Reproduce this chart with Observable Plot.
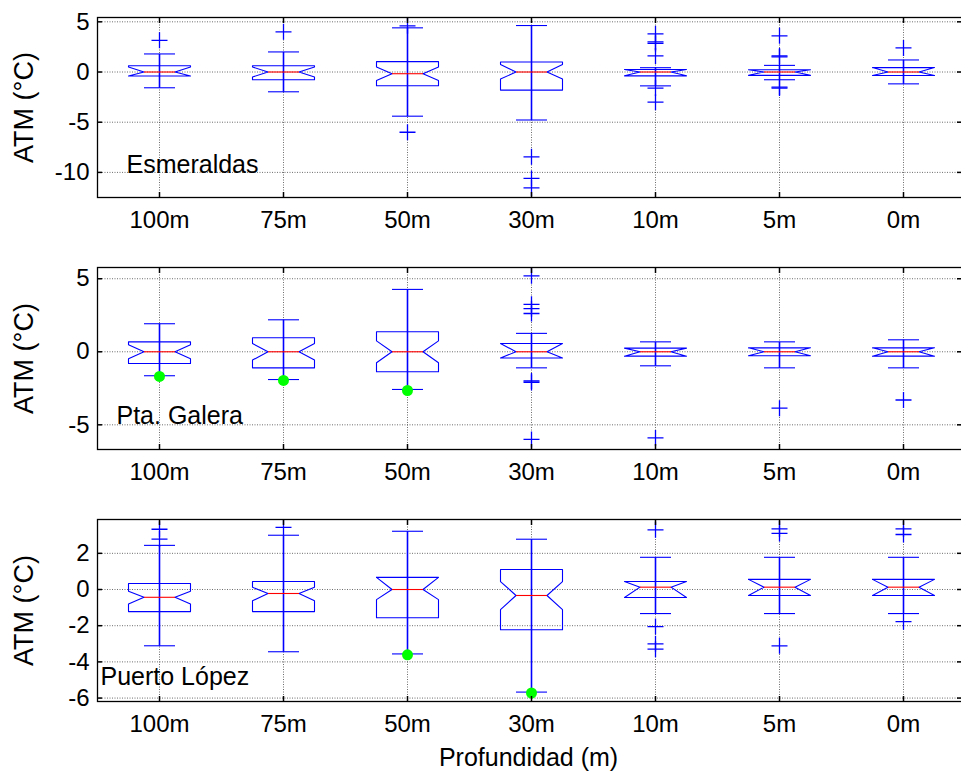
<!DOCTYPE html>
<html><head><meta charset="utf-8">
<script src="https://cdn.jsdelivr.net/npm/d3@7"></script>
<script src="https://cdn.jsdelivr.net/npm/@observablehq/plot@0.6"></script>
<style>
body{margin:0;background:#fff;}
#wrap{position:relative;width:961px;height:771px;overflow:hidden;background:#fff;}
#wrap > svg{position:absolute;left:0;}
</style></head><body><div id="wrap"></div>
<script>
const depths = ["100m","75m","50m","30m","10m","5m","0m"];
const stations = ["Esmeraldas","Pta. Galera","Puerto López"];
const yTitle = "ATM (°C)";
const xTitle = "Profundidad (m)";

// Esmeraldas
const esmMedian   = [0, 0, -0.17, 0, 0, 0, 0];
const esmQ1       = [-0.40, -0.77, -1.37, -1.80, -0.38, -0.33, -0.35];
const esmQ3       = [0.63, 0.63, 1.03, 1.00, 0.25, 0.23, 0.44];
const esmNotchLo  = [-0.50, -0.50, -0.84, -0.70, -0.38, -0.33, -0.35];
const esmNotchHi  = [0.50, 0.50, 0.50, 0.75, 0.25, 0.23, 0.44];
const esmWhiskLo  = [-1.57, -1.97, -4.40, -4.78, -1.38, -0.77, -1.18];
const esmWhiskHi  = [1.80, 2.00, 4.40, 4.63, 0.43, 0.66, 1.20];
const esmOutliers = [[3.16], [4.0], [4.6, -6.0], [-8.45, -10.6, -11.55], [3.8, 3.0, 2.85, 1.6, -1.6, -3.0], [3.6, 1.6, 1.5, -1.5, -1.6], [2.4]];
const esmGreen    = [null, null, null, null, null, null, null];
const esmYDomain  = [-12.5, 5.43];
const esmYTicks   = [5, 0, -5, -10];

// Pta. Galera
const galMedian   = [0, 0, 0, 0, 0, 0, 0];
const galQ1       = [-0.80, -1.10, -1.37, -0.43, -0.30, -0.27, -0.30];
const galQ3       = [0.68, 0.96, 1.37, 0.57, 0.25, 0.27, 0.27];
const galNotchLo  = [-0.48, -0.57, -0.75, -0.43, -0.30, -0.27, -0.30];
const galNotchHi  = [0.48, 0.57, 0.75, 0.57, 0.25, 0.27, 0.27];
const galWhiskLo  = [-1.64, -1.90, -2.58, -1.10, -0.96, -1.10, -1.10];
const galWhiskHi  = [1.92, 2.19, 4.27, 1.26, 0.68, 0.68, 0.82];
const galOutliers = [[], [], [], [5.2, 3.25, 2.95, 2.62, -2.0, -2.1, -6.0], [-5.9], [-3.86], [-3.3]];
const galGreen    = [-1.69, -1.96, -2.65, null, null, null, null];
const galYDomain  = [-6.69, 5.77];
const galYTicks   = [5, 0, -5];

// Puerto López
const lopMedian   = [-0.43, -0.22, 0, -0.33, 0.13, 0.13, 0.13];
const lopQ1       = [-1.22, -1.22, -1.56, -2.22, -0.44, -0.33, -0.33];
const lopQ3       = [0.33, 0.44, 0.67, 1.11, 0.44, 0.56, 0.56];
const lopNotchLo  = [-0.80, -0.62, -0.56, -1.11, -0.44, -0.33, -0.33];
const lopNotchHi  = [-0.10, 0.12, 0.67, 0.44, 0.44, 0.56, 0.56];
const lopWhiskLo  = [-3.11, -3.44, -3.56, -5.67, -1.33, -1.33, -1.33];
const lopWhiskHi  = [2.44, 3.00, 3.22, 2.78, 1.78, 1.78, 1.78];
const lopOutliers = [[3.33, 2.79], [3.44], [], [], [3.3, -2.05, -3.0, -3.3], [3.35, 3.1, -3.11], [3.35, 3.04, -1.78]];
const lopGreen    = [null, null, -3.61, -5.72, null, null, null];
const lopYDomain  = [-6.19, 3.87];
const lopYTicks   = [2, 0, -2, -4, -6];

const BLUE = "#0000ff", RED = "#ff0000", GREEN = "#00ff00";
const BOX_HALF = 0.25, NOTCH_HALF = 0.125, CAP_HALF = 0.125;
const xTicks = depths.map((d, k) => k + 1);

const plusSymbol = {
  draw(context, size) {
    const r = Math.sqrt(size / Math.PI);
    context.moveTo(-r, 0); context.lineTo(r, 0);
    context.moveTo(0, -r); context.lineTo(0, r);
  }
};

const panels = [
  {station: stations[0], median: esmMedian, q1: esmQ1, q3: esmQ3, nLo: esmNotchLo, nHi: esmNotchHi, wLo: esmWhiskLo, wHi: esmWhiskHi, outliers: esmOutliers, green: esmGreen, yDomain: esmYDomain, yTicks: esmYTicks,
   top: 0, marginTop: 17, inner: 180, marginBottom: 48, sdx: 29, sdy: -33, showXTitle: false},
  {station: stations[1], median: galMedian, q1: galQ1, q3: galQ3, nLo: galNotchLo, nHi: galNotchHi, wLo: galWhiskLo, wHi: galWhiskHi, outliers: galOutliers, green: galGreen, yDomain: galYDomain, yTicks: galYTicks,
   top: 250, marginTop: 17, inner: 182, marginBottom: 48, sdx: 19, sdy: -34, showXTitle: false},
  {station: stations[2], median: lopMedian, q1: lopQ1, q3: lopQ3, nLo: lopNotchLo, nHi: lopNotchHi, wLo: lopWhiskLo, wHi: lopWhiskHi, outliers: lopOutliers, green: lopGreen, yDomain: lopYDomain, yTicks: lopYTicks,
   top: 500, marginTop: 19, inner: 182, marginBottom: 70, sdx: 3, sdy: -25, showXTitle: true}
];

const wrap = document.getElementById("wrap");

for (const p of panels) {
  const rows = depths.map((d, k) => ({
    i: k + 1, med: p.median[k], q1: p.q1[k], q3: p.q3[k],
    nLo: Math.max(p.nLo[k], p.q1[k]), nHi: Math.min(p.nHi[k], p.q3[k]),
    wLo: p.wLo[k], wHi: p.wHi[k]
  }));
  const verts = rows.flatMap(r => {
    const L = r.i - BOX_HALF, R = r.i + BOX_HALF, nl = r.i - NOTCH_HALF, nr = r.i + NOTCH_HALF;
    return [[L, r.q3], [R, r.q3], [R, r.nHi], [nr, r.med], [R, r.nLo], [R, r.q1], [L, r.q1], [L, r.nLo], [nl, r.med], [L, r.nHi], [L, r.q3]]
      .map(([x, y]) => ({g: r.i, x, y}));
  });
  const outRows = p.outliers.flatMap((vals, k) => vals.map(v => ({i: k + 1, v})));
  const greenRows = p.green.map((v, k) => ({i: k + 1, v})).filter(d => d.v != null);
  const height = p.marginTop + p.inner + p.marginBottom;

  const chart = Plot.plot({
    width: 961, height,
    marginLeft: 97, marginRight: -4, marginTop: p.marginTop, marginBottom: p.marginBottom,
    style: {fontFamily: "'Liberation Sans', Arial, sans-serif", fontSize: "24px", background: "transparent", color: "black"},
    x: {type: "linear", domain: [0.5, 7.5]},
    y: {domain: p.yDomain},
    marks: [
      Plot.gridY(p.yTicks, {stroke: "#333", strokeOpacity: 0.9, strokeDasharray: "1,1.5", strokeWidth: 0.8}),
      Plot.gridX(xTicks, {stroke: "#333", strokeOpacity: 0.9, strokeDasharray: "1,1.5", strokeWidth: 0.8}),
      Plot.line(verts, {x: "x", y: "y", z: "g", stroke: BLUE, strokeWidth: 1.1, curve: "linear"}),
      Plot.link(rows, {x1: "i", x2: "i", y1: "wLo", y2: "wHi", stroke: BLUE, strokeWidth: 1.6}),
      Plot.link(rows, {x1: d => d.i - CAP_HALF, x2: d => d.i + CAP_HALF, y1: "wHi", y2: "wHi", stroke: BLUE, strokeWidth: 1.1}),
      Plot.link(rows, {x1: d => d.i - CAP_HALF, x2: d => d.i + CAP_HALF, y1: "wLo", y2: "wLo", stroke: BLUE, strokeWidth: 1.1}),
      Plot.link(rows, {x1: d => d.i - NOTCH_HALF, x2: d => d.i + NOTCH_HALF, y1: "med", y2: "med", stroke: RED, strokeWidth: 1.1}),
      Plot.dot(outRows, {x: "i", y: "v", symbol: plusSymbol, r: 8, stroke: BLUE, fill: "none", strokeWidth: 1.3}),
      Plot.dot(greenRows, {x: "i", y: "v", r: 5.5, fill: GREEN, stroke: "none"}),
      Plot.frame({stroke: "black", strokeWidth: 1.3}),
      Plot.axisY(p.yTicks, {anchor: "left", tickSize: -5, tickPadding: 13, strokeWidth: 1.5, tickFormat: d => String(d), label: null}),
      Plot.axisY(p.yTicks, {anchor: "right", tickSize: -9, strokeWidth: 1.5, tickFormat: () => "", label: null}),
      Plot.axisX(xTicks, {anchor: "bottom", tickSize: -5, tickPadding: 18, strokeWidth: 1.5, tickFormat: i => depths[i - 1], label: null}),
      Plot.axisX(xTicks, {anchor: "top", tickSize: -5, strokeWidth: 1.5, tickFormat: () => "", label: null}),
      Plot.text([yTitle], {frameAnchor: "left", rotate: -90, dx: -73, textAnchor: "middle", lineAnchor: "middle", fontSize: 27}),
      Plot.text([p.station], {frameAnchor: "bottom-left", dx: p.sdx, dy: p.sdy, textAnchor: "start", lineAnchor: "middle", fontSize: 25}),
      p.showXTitle ? Plot.text([xTitle], {frameAnchor: "bottom", dx: -3, dy: 56, lineAnchor: "middle", fontSize: 25}) : null
    ]
  });
  chart.style.top = p.top + "px";
  wrap.appendChild(chart);
}
</script>
</body></html>
